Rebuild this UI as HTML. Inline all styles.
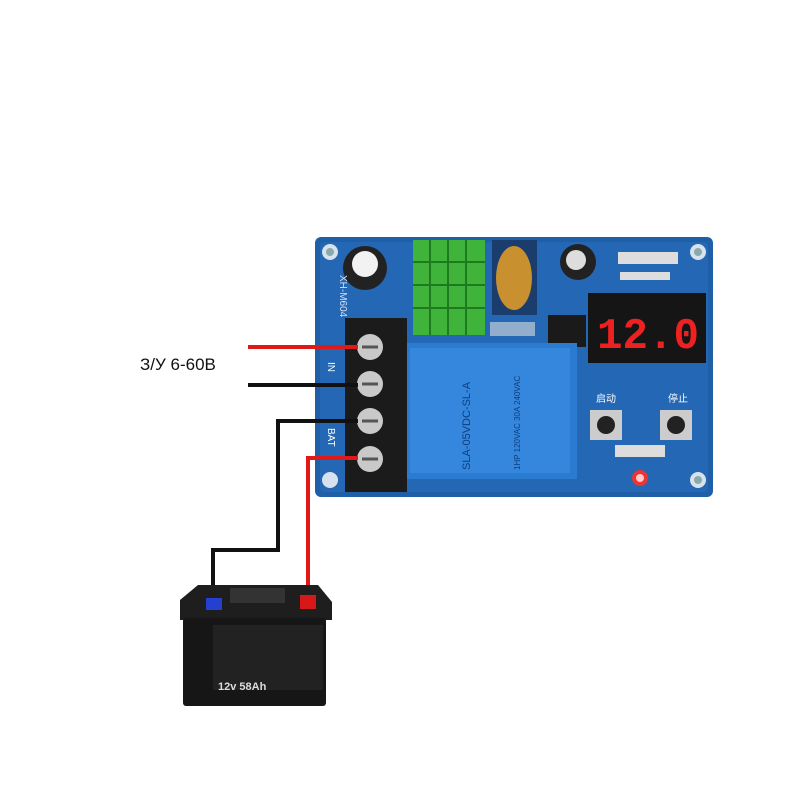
<!DOCTYPE html>
<html><head><style>body{margin:0;background:#fff}svg{display:block}</style></head><body>
<svg width="800" height="800" viewBox="0 0 800 800" xmlns="http://www.w3.org/2000/svg" font-family="Liberation Sans, sans-serif">
<rect width="800" height="800" fill="#fff"/>
<rect x="315" y="237" width="398" height="260" rx="6" fill="#1f5fa8"/>
<rect x="320" y="242" width="388" height="250" rx="4" fill="#2467b4"/>
<circle cx="330" cy="252" r="8" fill="#d8e2ee"/><circle cx="330" cy="252" r="4" fill="#8aa"/>
<circle cx="698" cy="252" r="8" fill="#d8e2ee"/><circle cx="698" cy="252" r="4" fill="#8aa"/>
<circle cx="698" cy="480" r="8" fill="#d8e2ee"/><circle cx="698" cy="480" r="4" fill="#8aa"/>
<circle cx="330" cy="480" r="8" fill="#d8e2ee"/>
<circle cx="365" cy="268" r="22" fill="#222"/><circle cx="365" cy="264" r="13" fill="#f2f2f2"/>
<circle cx="578" cy="262" r="18" fill="#222"/><circle cx="576" cy="260" r="10" fill="#ddd"/>
<text x="0" y="0" transform="translate(340,275) rotate(90)" font-size="10" fill="#dde">XH-M604</text>
<rect x="413" y="240" width="72" height="95" fill="#3fb33a"/>
<g stroke="#1e7a20" stroke-width="2"><line x1="413" y1="262" x2="485" y2="262"/><line x1="413" y1="285" x2="485" y2="285"/><line x1="413" y1="308" x2="485" y2="308"/><line x1="430" y1="240" x2="430" y2="335"/><line x1="448" y1="240" x2="448" y2="335"/><line x1="466" y1="240" x2="466" y2="335"/></g>
<rect x="492" y="240" width="45" height="75" fill="#1a3d6e"/>
<ellipse cx="514" cy="278" rx="18" ry="32" fill="#c8902e"/>
<rect x="490" y="322" width="45" height="14" fill="#ddd" opacity=".6"/>
<rect x="548" y="315" width="38" height="32" fill="#1a1a1a"/>
<rect x="588" y="293" width="118" height="70" fill="#151515"/>
<text x="597" y="348" font-size="44" fill="#ee2020" textLength="102" lengthAdjust="spacingAndGlyphs" font-family="Liberation Mono, monospace" font-weight="bold">12.0</text>
<g fill="#ddd"><rect x="618" y="252" width="60" height="12"/><rect x="620" y="272" width="50" height="8"/><rect x="500" y="345" width="30" height="18"/><rect x="615" y="445" width="50" height="12"/></g>
<rect x="590" y="410" width="32" height="30" fill="#ccc"/><circle cx="606" cy="425" r="9" fill="#222"/>
<rect x="660" y="410" width="32" height="30" fill="#ccc"/><circle cx="676" cy="425" r="9" fill="#222"/>
<text x="596" y="402" font-size="10" fill="#fff" font-family="Liberation Sans, Noto Sans CJK SC, sans-serif">启动</text>
<text x="668" y="402" font-size="10" fill="#fff" font-family="Liberation Sans, Noto Sans CJK SC, sans-serif">停止</text>
<circle cx="640" cy="478" r="8" fill="#e33"/><circle cx="640" cy="478" r="4" fill="#fcc"/>
<rect x="405" y="343" width="172" height="136" fill="#2b7bd0"/>
<rect x="410" y="348" width="160" height="125" fill="#3487dc"/>
<text transform="translate(470,470) rotate(-90)" font-size="11" fill="#0d3e80">SLA-05VDC-SL-A</text>
<text transform="translate(520,470) rotate(-90)" font-size="8" fill="#0d3e80">1HP 120VAC 30A 240VAC</text>
<rect x="345" y="318" width="62" height="174" fill="#1b1b1b"/>
<g fill="#c9c9c9"><circle cx="370" cy="347" r="13"/><circle cx="370" cy="384" r="13"/><circle cx="370" cy="421" r="13"/><circle cx="370" cy="459" r="13"/></g>
<g stroke="#555" stroke-width="3"><line x1="362" y1="347" x2="378" y2="347"/><line x1="362" y1="384" x2="378" y2="384"/><line x1="362" y1="421" x2="378" y2="421"/><line x1="362" y1="459" x2="378" y2="459"/></g>
<text transform="translate(328,362) rotate(90)" font-size="10" fill="#fff">IN</text>
<text transform="translate(328,428) rotate(90)" font-size="10" fill="#fff">BAT</text>
<g fill="none" stroke-width="4">
<polyline points="248,347 358,347" stroke="#e01818"/>
<polyline points="248,385 358,385" stroke="#111"/>
<polyline points="358,421 278,421 278,550 213,550 213,600" stroke="#111"/>
<polyline points="358,458 308,458 308,598" stroke="#e01818"/>
</g>
<text x="140" y="370" font-size="17" fill="#111">З/У 6-60В</text>
<polygon points="180,600 198,585 318,585 332,602 332,620 180,620" fill="#1e1e1e"/>
<rect x="230" y="588" width="55" height="15" fill="#333"/>
<rect x="206" y="598" width="16" height="12" fill="#2340d0"/>
<rect x="300" y="595" width="16" height="14" fill="#d81818"/>
<rect x="183" y="618" width="143" height="88" rx="3" fill="#161616"/>
<rect x="213" y="625" width="110" height="65" fill="#222"/>
<text x="218" y="690" font-size="11" fill="#ddd" font-weight="bold">12v 58Ah</text>
</svg>
</body></html>
